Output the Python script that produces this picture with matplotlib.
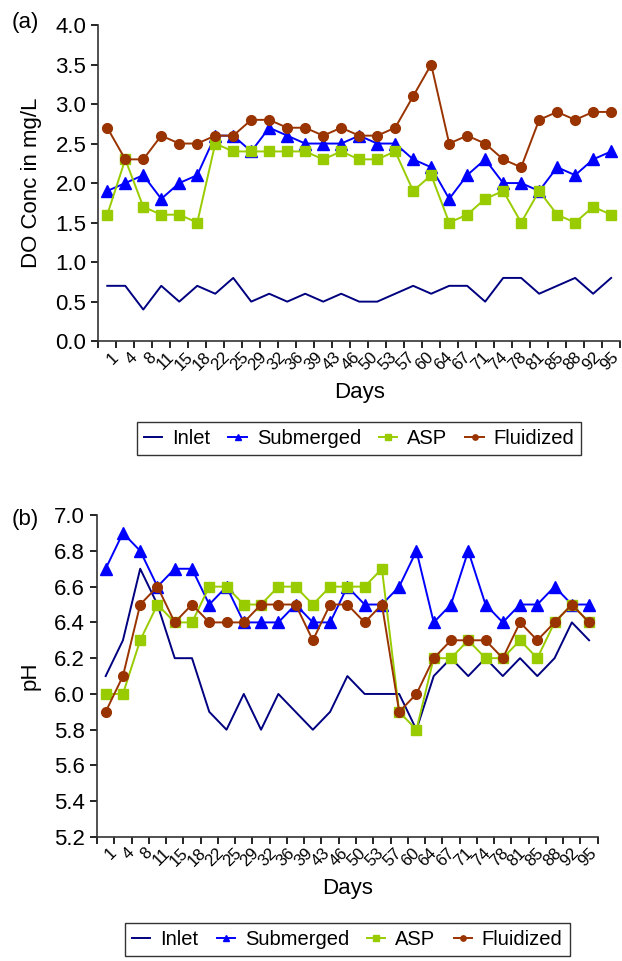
import numpy as np
import matplotlib
matplotlib.use("Agg")
import matplotlib.pyplot as plt
from matplotlib.ticker import FormatStrFormatter

plt.rcParams['font.family'] = ['Liberation Sans', 'DejaVu Sans']

# sampling days shown on the x axis
days = [1, 4, 8, 11, 15, 18, 22, 25, 29, 32, 36, 39, 43, 46, 50, 53, 57,
        60, 64, 67, 71, 74, 78, 81, 85, 88, 92, 95]

# (a) dissolved oxygen, mg/L
do_inlet = [0.7, 0.7, 0.4, 0.7, 0.5, 0.7, 0.6, 0.8, 0.5, 0.6, 0.5, 0.6, 0.5, 0.6, 0.5,
            0.5, 0.6, 0.7, 0.6, 0.7, 0.7, 0.5, 0.8, 0.8, 0.6, 0.7, 0.8, 0.6, 0.8]
do_sub = [1.9, 2.0, 2.1, 1.8, 2.0, 2.1, 2.6, 2.6, 2.4, 2.7, 2.6, 2.5, 2.5, 2.5, 2.6,
          2.5, 2.5, 2.3, 2.2, 1.8, 2.1, 2.3, 2.0, 2.0, 1.9, 2.2, 2.1, 2.3, 2.4]
do_asp = [1.6, 2.3, 1.7, 1.6, 1.6, 1.5, 2.5, 2.4, 2.4, 2.4, 2.4, 2.4, 2.3, 2.4, 2.3,
          2.3, 2.4, 1.9, 2.1, 1.5, 1.6, 1.8, 1.9, 1.5, 1.9, 1.6, 1.5, 1.7, 1.6]
do_flu = [2.7, 2.3, 2.3, 2.6, 2.5, 2.5, 2.6, 2.6, 2.8, 2.8, 2.7, 2.7, 2.6, 2.7, 2.6,
          2.6, 2.7, 3.1, 3.5, 2.5, 2.6, 2.5, 2.3, 2.2, 2.8, 2.9, 2.8, 2.9, 2.9]

# (b) pH
ph_inlet = [6.1, 6.3, 6.7, 6.5, 6.2, 6.2, 5.9, 5.8, 6.0, 5.8, 6.0, 5.9, 5.8, 5.9, 6.1,
            6.0, 6.0, 6.0, 5.8, 6.1, 6.2, 6.1, 6.2, 6.1, 6.2, 6.1, 6.2, 6.4, 6.3]
ph_sub = [6.7, 6.9, 6.8, 6.6, 6.7, 6.7, 6.5, 6.6, 6.4, 6.4, 6.4, 6.5, 6.4, 6.4, 6.6,
          6.5, 6.5, 6.6, 6.8, 6.4, 6.5, 6.8, 6.5, 6.4, 6.5, 6.5, 6.6, 6.5, 6.5]
ph_asp = [6.0, 6.0, 6.3, 6.5, 6.4, 6.4, 6.6, 6.6, 6.5, 6.5, 6.6, 6.6, 6.5, 6.6, 6.6,
          6.6, 6.7, 5.9, 5.8, 6.2, 6.2, 6.3, 6.2, 6.2, 6.3, 6.2, 6.4, 6.5, 6.4]
ph_flu = [5.9, 6.1, 6.5, 6.6, 6.4, 6.5, 6.4, 6.4, 6.4, 6.5, 6.5, 6.5, 6.3, 6.5, 6.5,
          6.4, 6.5, 5.9, 6.0, 6.2, 6.3, 6.3, 6.3, 6.2, 6.4, 6.3, 6.4, 6.5, 6.4]

names = ["Inlet", "Submerged", "ASP", "Fluidized"]
colors = ["#000080", "#0000ff", "#99cc00", "#993300"]
markers = [None, "^", "s", "o"]
msizes = [0, 8, 7, 7]


def draw(ax, series, ylim, step, ylabel, legend_y):
    x = np.arange(len(series[0]))
    handles = []
    for vals, name, c, m, ms in zip(series, names, colors, markers, msizes):
        h, = ax.plot(x, vals, color=c, lw=1.4, marker=m, ms=ms,
                     markeredgecolor=c, label=name)
        handles.append(h)
    ax.set_xlim(-0.5, len(x) - 0.5)
    ax.set_ylim(*ylim)
    ax.set_yticks(np.arange(ylim[0], ylim[1] + step / 2, step))
    ax.yaxis.set_major_formatter(FormatStrFormatter('%.1f'))
    ax.tick_params(axis='y', labelsize=16, length=5, width=1.2, direction='out')
    # boundaries between categories carry the tick marks
    ax.set_xticks(np.arange(-0.5, len(x), 1), minor=True)
    ax.set_xticks(np.linspace(0.2, len(x) - 1.0, len(days)))
    ax.set_xticklabels([str(d) for d in days], rotation=45, ha='right', va='top',
                       rotation_mode='anchor', fontsize=12)
    ax.tick_params(axis='x', which='major', length=0, pad=6)
    ax.tick_params(axis='x', which='minor', length=5, width=1.2, direction='out')
    for s in ['top', 'right']:
        ax.spines[s].set_visible(False)
    for s in ['left', 'bottom']:
        ax.spines[s].set_linewidth(1.2)
        ax.spines[s].set_color('#333333')
    ax.set_xlabel("Days", fontsize=16, labelpad=6)
    ax.set_ylabel(ylabel, fontsize=16, labelpad=10)
    leg = ax.legend(handles=handles, loc='upper center', ncol=4,
                    bbox_to_anchor=(0.5, legend_y), fontsize=14.5,
                    handlelength=0.9, handletextpad=0.5, columnspacing=0.9,
                    fancybox=False, edgecolor='black', markerscale=0.55,
                    borderpad=0.35)
    leg.get_frame().set_linewidth(1.0)


fig = plt.figure(figsize=(6.22, 9.61), dpi=100)
ax1 = fig.add_axes([0.158, 0.645, 0.839, 0.329])
ax2 = fig.add_axes([0.156, 0.129, 0.805, 0.335])

draw(ax1, [do_inlet, do_sub, do_asp, do_flu], (0.0, 4.0), 0.5,
     "DO Conc in mg/L", -0.225)
draw(ax2, [ph_inlet, ph_sub, ph_asp, ph_flu], (5.2, 7.0), 0.2,
     "pH", -0.235)

fig.text(0.019, 0.977, "(a)", fontsize=16, va='center')
fig.text(0.019, 0.459, "(b)", fontsize=16, va='center')

fig.savefig("out.png", dpi=100)
